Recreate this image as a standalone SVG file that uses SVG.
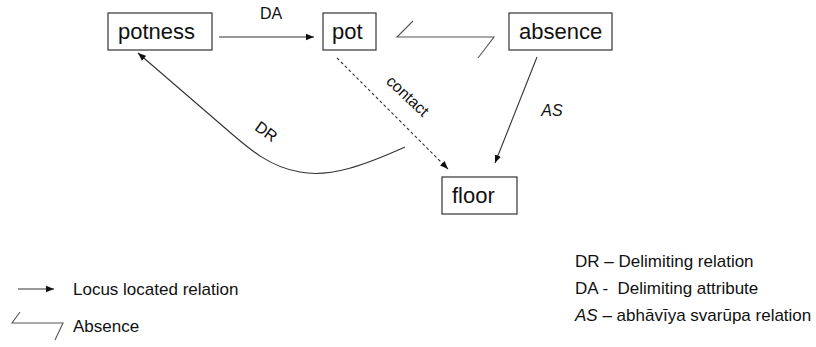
<svg xmlns="http://www.w3.org/2000/svg" width="816" height="347" viewBox="0 0 816 347">
  <style>
    .box { fill: #ffffff; stroke: #333333; stroke-width: 1.2; }
    .node { font-family: "Liberation Sans", Arial, sans-serif; font-size: 22px; fill: #111111; }
    .lbl { font-family: "Liberation Sans", Arial, sans-serif; font-size: 16px; fill: #111111; }
    .leg { font-family: "Liberation Sans", Arial, sans-serif; font-size: 17px; fill: #111111; }
    .edge { fill: none; stroke: #333333; stroke-width: 1.1; }
    .dash { stroke-dasharray: 3 2.5; }
    .neg { fill: none; stroke: #555555; stroke-width: 1.1; }
  </style>
  <defs>
    <marker id="arrow" viewBox="0 0 10 10" refX="10" refY="5" markerWidth="8" markerHeight="8" markerUnits="userSpaceOnUse" orient="auto">
      <path d="M0,1 L10,5 L0,9 Z" fill="#111111"/>
    </marker>
  </defs>
  <rect width="816" height="347" fill="#ffffff"/>

  <g id="connectors">
    <!-- DA: potness to pot -->
    <line class="edge" x1="219" y1="37" x2="314" y2="37" marker-end="url(#arrow)"/>
    <text class="lbl" x="271" y="19" text-anchor="middle">DA</text>
    <!-- contact: pot to floor -->
    <line class="edge dash" x1="337" y1="58" x2="448" y2="169" marker-end="url(#arrow)"/>
    <text class="lbl" font-size="15" transform="translate(404,100) rotate(43)" text-anchor="middle">contact</text>
    <!-- AS: absence to floor -->
    <line class="edge" x1="537" y1="57" x2="495" y2="163" marker-end="url(#arrow)"/>
    <text class="lbl" x="552" y="116" text-anchor="middle" font-style="italic">AS</text>
    <!-- DR: curve from floor back to potness -->
    <path class="edge" d="M405,147 C365,165 330,178 300,172 C270,167 250,150 225,128 L138,53" marker-end="url(#arrow)"/>
    <text class="lbl" font-size="17" transform="translate(263,136) rotate(36)" text-anchor="middle">DR</text>
    <!-- absence symbol between pot and absence -->
    <polyline class="neg" points="413,21 397,37 494,37 478,58"/>
  </g>

  <g id="potness">
    <rect class="box" x="108" y="13" width="104" height="37"/>
    <text class="node" x="118" y="39">potness</text>
  </g>
  <g id="pot">
    <rect class="box" x="323" y="13" width="53" height="37"/>
    <text class="node" x="332" y="39">pot</text>
  </g>
  <g id="absence">
    <rect class="box" x="509" y="13" width="103" height="37"/>
    <text class="node" x="519" y="39">absence</text>
  </g>
  <g id="floor">
    <rect class="box" x="442" y="177" width="75" height="37"/>
    <text class="node" x="452" y="203">floor</text>
  </g>

  <g id="legend">
    <line class="edge" x1="18" y1="289" x2="54" y2="289" marker-end="url(#arrow)"/>
    <text class="leg" x="73" y="295">Locus located relation</text>
    <polyline class="neg" points="20,312 12,323 63,323 55,340"/>
    <text class="leg" x="73" y="332">Absence</text>
    <text class="leg" x="575" y="267">DR – Delimiting relation</text>
    <text class="leg" x="575" y="294" xml:space="preserve">DA -  Delimiting attribute</text>
    <text class="leg" x="575" y="321"><tspan font-style="italic">AS</tspan> – abhāvīya svarūpa relation</text>
  </g>
</svg>
